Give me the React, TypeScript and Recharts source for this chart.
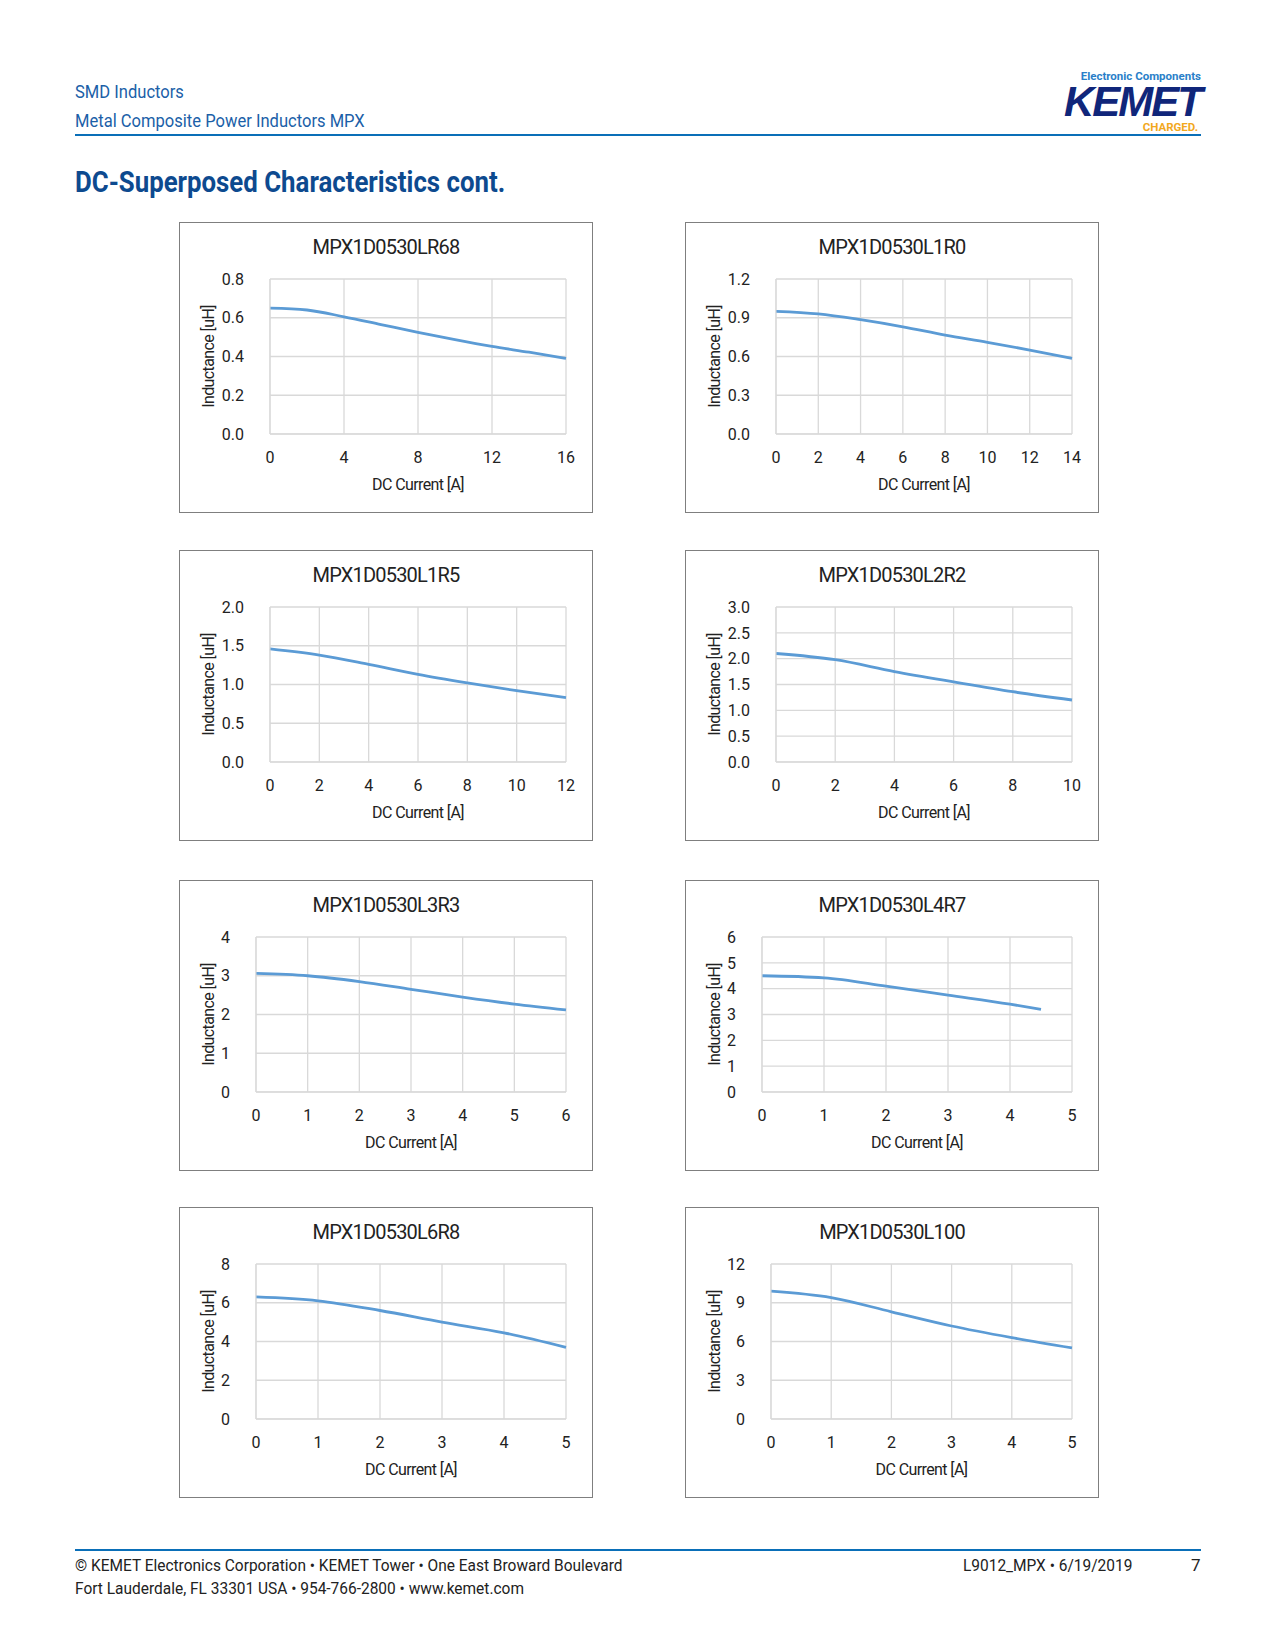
import React from 'react';
import { LineChart, Line, XAxis, YAxis, CartesianGrid } from 'recharts';

const titles = ['MPX1D0530LR68', 'MPX1D0530L1R0', 'MPX1D0530L1R5', 'MPX1D0530L2R2', 'MPX1D0530L3R3', 'MPX1D0530L4R7', 'MPX1D0530L6R8', 'MPX1D0530L100'];
const xTicks = [[0,4,8,12,16],[0,2,4,6,8,10,12,14],[0,2,4,6,8,10,12],[0,2,4,6,8,10],[0,1,2,3,4,5,6],[0,1,2,3,4,5],[0,1,2,3,4,5],[0,1,2,3,4,5]];
const yTicks = [[0,0.2,0.4,0.6,0.8],[0,0.3,0.6,0.9,1.2],[0,0.5,1,1.5,2],[0,0.5,1,1.5,2,2.5,3],[0,1,2,3,4],[0,1,2,3,4,5,6],[0,2,4,6,8],[0,3,6,9,12]];
const yDecimals = [1,1,1,1,0,0,0,0];
const currents = [
  [0,2,4,6,8,10,12,14,16],
  [0,2,4,6,8,10,12,14],
  [0,2,4,6,8,10,12],
  [0,2,4,6,8,10],
  [0,1,2,3,4,5,6],
  [0,1,2,3,4,4.5],
  [0,1,2,3,4,5],
  [0,1,2,3,4,5],
];
const inductances = [
  [0.65,0.64,0.605,0.565,0.525,0.487,0.452,0.422,0.39],
  [0.95,0.93,0.885,0.83,0.765,0.71,0.65,0.585],
  [1.46,1.38,1.26,1.13,1.02,0.92,0.83],
  [2.1,1.98,1.75,1.55,1.36,1.2],
  [3.06,3.0,2.85,2.65,2.45,2.27,2.12],
  [4.5,4.42,4.1,3.75,3.4,3.2],
  [6.3,6.1,5.6,5.0,4.45,3.7],
  [9.9,9.4,8.3,7.2,6.3,5.5],
];
const yAxisWidths = [68,68,68,68,54,54,54,63];

const font = "'Roboto', sans-serif";
const W = 414, H = 291;

function Panel({ i, left, top }: { i: number; left: number; top: number }) {
  const data = currents[i].map((c, k) => ({ x: c, y: inductances[i][k] }));
  const xt = xTicks[i], yt = yTicks[i];
  const yw = yAxisWidths[i];
  return (
    <div style={{ position: 'absolute', left, top, width: W, height: H, border: '1px solid #7f7f7f', boxSizing: 'border-box', background: '#fff' }}>
      <div style={{ position: 'absolute', top: 12, width: '100%', textAlign: 'center', fontSize: 20, fontFamily: font, color: '#222', letterSpacing: -0.8 }}>{titles[i]}</div>
      <div style={{ position: 'absolute', left: 0, top: 0 }}>
        <LineChart width={W - 2} height={H - 2} data={data} margin={{ top: 56, right: 26, left: 22, bottom: 0 }}>
          <CartesianGrid stroke="#d9d9d9" strokeWidth={1.3} />
          <XAxis type="number" dataKey="x" domain={[0, xt[xt.length - 1]]} ticks={xt} interval={0} height={78}
            axisLine={{ stroke: '#d9d9d9' }} tickLine={false} tickMargin={12}
            tick={{ fontSize: 16, fill: '#222', fontFamily: font }}
            label={{ value: 'DC Current [A]', position: 'insideBottom', offset: 22, fontSize: 16, fill: '#222', fontFamily: font, letterSpacing: -0.6 }} />
          <YAxis type="number" domain={[0, yt[yt.length - 1]]} ticks={yt} interval={0} width={yw}
            axisLine={{ stroke: '#d9d9d9' }} tickLine={false} tickMargin={20}
            tickFormatter={(v: number) => v.toFixed(yDecimals[i])}
            tick={{ fontSize: 16, fill: '#222', fontFamily: font }}
            label={{ value: 'Inductance [uH]', angle: -90, position: 'insideLeft', offset: 6, fontSize: 16, fill: '#222', fontFamily: font, letterSpacing: -0.6, style: { textAnchor: 'middle' } }} />
          <Line type="monotone" dataKey="y" stroke="#5b9bd5" strokeWidth={2.8} dot={false} isAnimationActive={false} />
        </LineChart>
      </div>
    </div>
  );
}

const narrow = (s: number): React.CSSProperties => ({ transform: `scaleX(${s})`, transformOrigin: 'left top', whiteSpace: 'nowrap' });

export default function App() {
  const lefts = [179, 685];
  const tops = [222, 550, 880, 1207];
  return (
    <div style={{ position: 'relative', width: 1259, height: 1634, fontFamily: font }}>
      <div style={{ position: 'absolute', left: 67, top: 73, color: '#1b5fa8', fontSize: 18, ...narrow(0.92) }}>SMD Inductors</div>
      <div style={{ position: 'absolute', left: 67, top: 102, color: '#1b5fa8', fontSize: 18, ...narrow(0.92) }}>Metal Composite Power Inductors MPX</div>
      <div style={{ position: 'absolute', left: 1030, top: 62, width: 163, textAlign: 'right', color: '#2a7fc9', fontSize: 11.5, lineHeight: '12px', fontWeight: 700 }}>Electronic Components</div>
      <div style={{ position: 'absolute', left: 1030, top: 77, width: 163, textAlign: 'right', color: '#10267a', fontSize: 42, lineHeight: '34px', fontWeight: 700, fontStyle: 'italic', letterSpacing: -2, fontFamily: "'Liberation Sans', sans-serif" }}>KEMET</div>
      <div style={{ position: 'absolute', left: 1030, top: 113, width: 160, textAlign: 'right', color: '#f2a81d', fontSize: 11.5, lineHeight: '12px', fontWeight: 700 }}>CHARGED.</div>
      <div style={{ position: 'absolute', left: 67, top: 126, width: 1126, height: 2, background: '#0a6fb8' }} />
      <div style={{ position: 'absolute', left: 67, top: 156, color: '#0d4a8f', fontSize: 30, fontWeight: 700, ...narrow(0.86) }}>DC-Superposed Characteristics cont.</div>
      {titles.map((_, i) => (
        <Panel key={i} i={i} left={lefts[i % 2] - 8} top={tops[Math.floor(i / 2)] - 8} />
      ))}
      <div style={{ position: 'absolute', left: 67, top: 1541, width: 1126, height: 2, background: '#0a6fb8' }} />
      <div style={{ position: 'absolute', left: 67, top: 1546, color: '#222', fontSize: 17, lineHeight: '23px', ...narrow(0.91) }}>
        © KEMET Electronics Corporation • KEMET Tower • One East Broward Boulevard<br />Fort Lauderdale, FL 33301 USA • 954-766-2800 • www.kemet.com
      </div>
      <div style={{ position: 'absolute', left: 955, top: 1546, color: '#222', fontSize: 17, lineHeight: '23px', ...narrow(0.91) }}>L9012_MPX • 6/19/2019</div>
      <div style={{ position: 'absolute', left: 1183, top: 1546, color: '#222', fontSize: 17, lineHeight: '23px' }}>7</div>
    </div>
  );
}
